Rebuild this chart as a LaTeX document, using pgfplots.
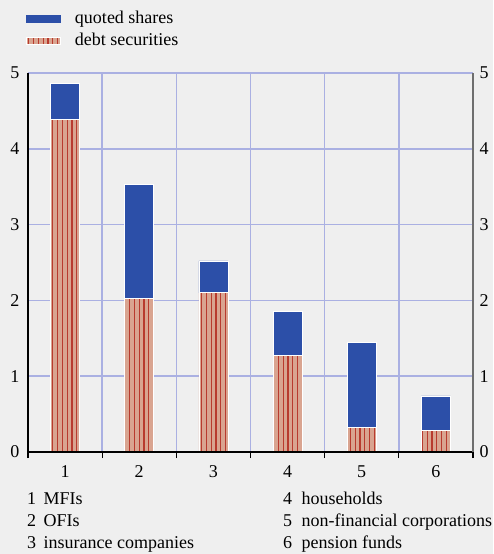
\documentclass[border=0pt]{standalone}
\usepackage{fontspec}
\setmainfont{Liberation Serif}
\usepackage{pgfplots}
\pgfplotsset{compat=1.18}
\usetikzlibrary{patterns.meta}
\definecolor{bgc}{HTML}{EFEFEF}
\definecolor{gridc}{HTML}{AAB0E2}
\definecolor{sharesblue}{HTML}{2C4FA8}
\definecolor{debtpink}{HTML}{D9A490}
\definecolor{debtred}{HTML}{B83A2E}
\definecolor{raxis}{HTML}{6E6E6E}
\newcommand{\fs}{\fontsize{18}{21}\selectfont}
\begin{document}
\begin{tikzpicture}
\fill[bgc] (-28pt,-102pt) rectangle (465pt,452pt);
\useasboundingbox (-28pt,-102pt) rectangle (465pt,452pt);
\begin{axis}[
  at={(0pt,0pt)}, anchor=south west,
  width=445pt, height=379pt, scale only axis,
  xmin=0.5, xmax=6.5, ymin=0, ymax=5,
  ybar stacked, bar width=29pt,
  xtick={1,...,6}, minor xtick={0.5,1.5,...,6.5},
  ytick={0,...,5},
  major tick length=0pt, minor tick length=6pt,
  tick align=outside,
  axis x line*=bottom, axis y line*=left,
  xminorgrids=true, ymajorgrids=true, xmajorgrids=false,
  major grid style={color=gridc, line width=1.6pt},
  minor grid style={color=gridc, line width=1.6pt},
  minor tick style={black, line width=1.3pt},
  axis line style={black, line width=1.3pt, -},
  /pgf/number format/assume math mode=true,
  ticklabel style={font=\fs},
  xticklabel style={yshift=-10.5pt},
  yticklabel style={xshift=-5pt},
  reverse legend,
  legend style={at={(axis description cs:-0.0045,1.164)}, anchor=north west,
    draw=none, fill=none, inner sep=0pt, font=\fs, row sep=6pt,
    column sep=14pt, nodes={inner sep=0pt, text height=12pt, text depth=4pt},
    cells={anchor=west}},
  after end axis/.code={
    \draw[black, line width=1.3pt, line cap=rect] (rel axis cs:0,0) -- (rel axis cs:1,0);
  },
]
\addplot[fill=debtpink, draw=white, line width=0.8pt,
  postaction={pattern={Lines[angle=90,distance=4.8pt,line width=1.1pt]}, pattern color=debtred},
  legend image code/.code={\fill[debtpink] (0pt,-3.8pt) rectangle (34pt,3.8pt);
    \fill[pattern={Lines[angle=90,distance=4.8pt,line width=1.1pt]}, pattern color=debtred] (0pt,-3.8pt) rectangle (34pt,3.8pt);}]
  coordinates {(1,4.39) (2,2.03) (3,2.10) (4,1.27) (5,0.32) (6,0.29)};
\addlegendentry{debt securities}
\addplot[fill=sharesblue, draw=white, line width=0.8pt,
  legend image code/.code={\fill[sharesblue] (0pt,-3.5pt) rectangle (34pt,3.5pt);}]
  coordinates {(1,0.47) (2,1.50) (3,0.42) (4,0.59) (5,1.13) (6,0.45)};
\addlegendentry{quoted shares}
\end{axis}
\begin{axis}[
  at={(0pt,0pt)}, anchor=south west,
  width=445pt, height=379pt, scale only axis,
  xmin=0.5, xmax=6.5, ymin=0, ymax=5,
  axis y line*=right, axis x line=none,
  ytick={0,...,5}, major tick length=0pt,
  axis line style={raxis, line width=1.8pt, -},
  /pgf/number format/assume math mode=true,
  ticklabel style={font=\fs},
  yticklabel style={xshift=3pt},
]
\addplot[draw=none, forget plot] coordinates {(1,0)};
\end{axis}
\begin{scope}[every node/.style={inner sep=0pt, anchor=base west, font=\fs}]
\node at (-1pt,-52pt) {1};  \node at (15.5pt,-52pt) {MFIs};
\node at (-1pt,-74pt) {2};  \node at (15.5pt,-74pt) {OFIs};
\node at (-1pt,-96pt) {3};  \node at (15.5pt,-96pt) {insurance companies};
\node at (255pt,-52pt) {4}; \node at (273.5pt,-52pt) {households};
\node at (255pt,-74pt) {5}; \node at (273.5pt,-74pt) {non-financial corporations};
\node at (255pt,-96pt) {6}; \node at (273.5pt,-96pt) {pension funds};
\end{scope}
\end{tikzpicture}
\end{document}
